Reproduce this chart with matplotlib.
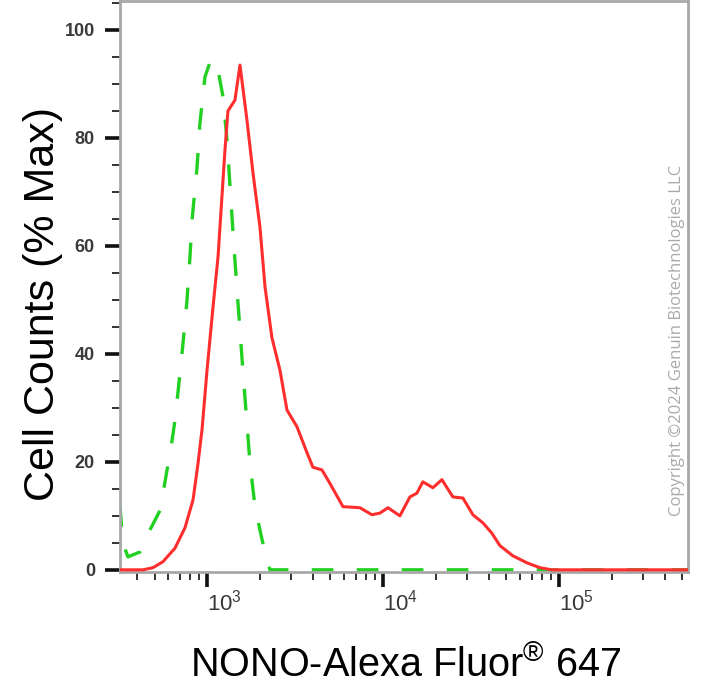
import matplotlib
matplotlib.use('Agg')
import matplotlib.pyplot as plt
import numpy as np
from matplotlib.ticker import LogLocator, MultipleLocator, NullFormatter

plt.rcParams['font.family'] = ['Liberation Sans', 'DejaVu Sans']
plt.rcParams['mathtext.fontset'] = 'custom'
plt.rcParams['mathtext.rm'] = 'Liberation Sans'
plt.rcParams['mathtext.it'] = 'Liberation Sans'
plt.rcParams['mathtext.bf'] = 'Liberation Sans:bold'

# NONO stained sample (red, solid)
stained_x = [318, 430, 490, 558, 653, 745, 828, 884, 931, 994, 1075, 1148,
             1257, 1307, 1432, 1530, 1676, 1814, 1987, 2123, 2324, 2581, 2830,
             3226, 3677, 3975, 4475, 4966, 5890, 7350, 8605, 9550, 10610,
             12410, 14150, 15500, 16760, 19110, 21500, 24830, 28300, 32270,
             36760, 41330, 45900, 54400, 65370, 77500, 90650, 200000, 550000]
stained_y = [0, 0, 0.4, 1.5, 4, 7.8, 13, 19.8, 26, 37, 48.7, 58, 77.8, 85,
             87, 93.5, 83.3, 73.5, 63.5, 52.4, 43, 37, 29.6, 26.5, 21.7, 19,
             18.5, 16, 11.7, 11.5, 10.2, 10.5, 11.5, 10, 13.5, 14.2, 16.3,
             15.2, 16.7, 13.5, 13.3, 10.2, 8.7, 6.8, 4.5, 2.6, 1.3, 0.4, 0,
             0, 0]

# isotype control (green, dashed)
control_x = [318, 330, 353, 413, 471, 537, 589, 629, 654, 680, 726, 765, 796,
             817, 872, 906, 967, 1033, 1103, 1148, 1225, 1291, 1343, 1397,
             1472, 1530, 1592, 1676, 1743, 1862, 2042, 2180, 2265, 10000,
             100000, 550000]
control_y = [12, 5, 2.4, 3.3, 7.4, 11, 18.5, 24, 27.8, 33, 42, 50, 58.3, 64.8,
             74.6, 82.8, 91.3, 94, 92, 92.6, 87.6, 79.6, 71, 62.4, 51.8, 44.4,
             36.5, 27.2, 19.8, 11.7, 5.6, 1.9, 0, 0, 0, 0]

decades = [1e3, 1e4, 1e5]
decade_labels = [r'$\mathregular{10^{3}}$', r'$\mathregular{10^{4}}$',
                 r'$\mathregular{10^{5}}$']

fig = plt.figure(figsize=(7.12, 6.85), dpi=100)
ax = fig.add_axes([0.1685, 0.165, 0.798, 0.833])

ax.plot(control_x, control_y, color='#22d022', lw=2.4,
        linestyle=(0, (6.5, 7.0)), zorder=2)
ax.plot(stained_x, stained_y, color='#ff2e2e', lw=2.2, zorder=3)

ax.set_xscale('log')
ax.set_xlim(318, 5.4e5)
ax.set_ylim(-0.4, 105.3)

ax.tick_params(axis='both', which='major', direction='out', length=11,
               width=2.6, color='#111111', labelcolor='#3a3a3a')
ax.tick_params(axis='both', which='minor', direction='out', length=6,
               width=1.3, color='#222222')
ax.tick_params(axis='x', which='major', pad=2)
ax.tick_params(axis='y', which='major', pad=7, labelsize=13)

ax.set_xticks(decades, decade_labels, ha='left', fontsize=16)
ax.xaxis.set_minor_locator(LogLocator(base=10, subs=np.arange(2, 10), numticks=20))
ax.xaxis.set_minor_formatter(NullFormatter())
ax.yaxis.set_major_locator(MultipleLocator(20))
ax.yaxis.set_minor_locator(MultipleLocator(5))
for lbl in ax.get_yticklabels():
    lbl.set_fontweight('bold')

for side in ['left', 'right', 'top', 'bottom']:
    ax.spines[side].set_color('#a8a8a8')
    ax.spines[side].set_linewidth(2)

fig.text(43 / 712, 1 - 304 / 685, 'Cell Counts (% Max)', rotation=90,
         ha='center', va='center', fontsize=31, color='black')
fig.text(406 / 712, 8 / 685, 'NONO-Alexa Fluor$^{\\mathrm{®}}$ 647',
         ha='center', va='baseline', fontsize=28.5, color='black')

fig.text(677 / 712, 1 - 340 / 685, 'Copyright \u00a92024 Genuin Biotechnologies LLC',
         rotation=90, ha='center', va='center', fontsize=12,
         family=['Open Sans', 'DejaVu Sans'], color='#aaaaaa')

fig.savefig('out.png', dpi=100)
